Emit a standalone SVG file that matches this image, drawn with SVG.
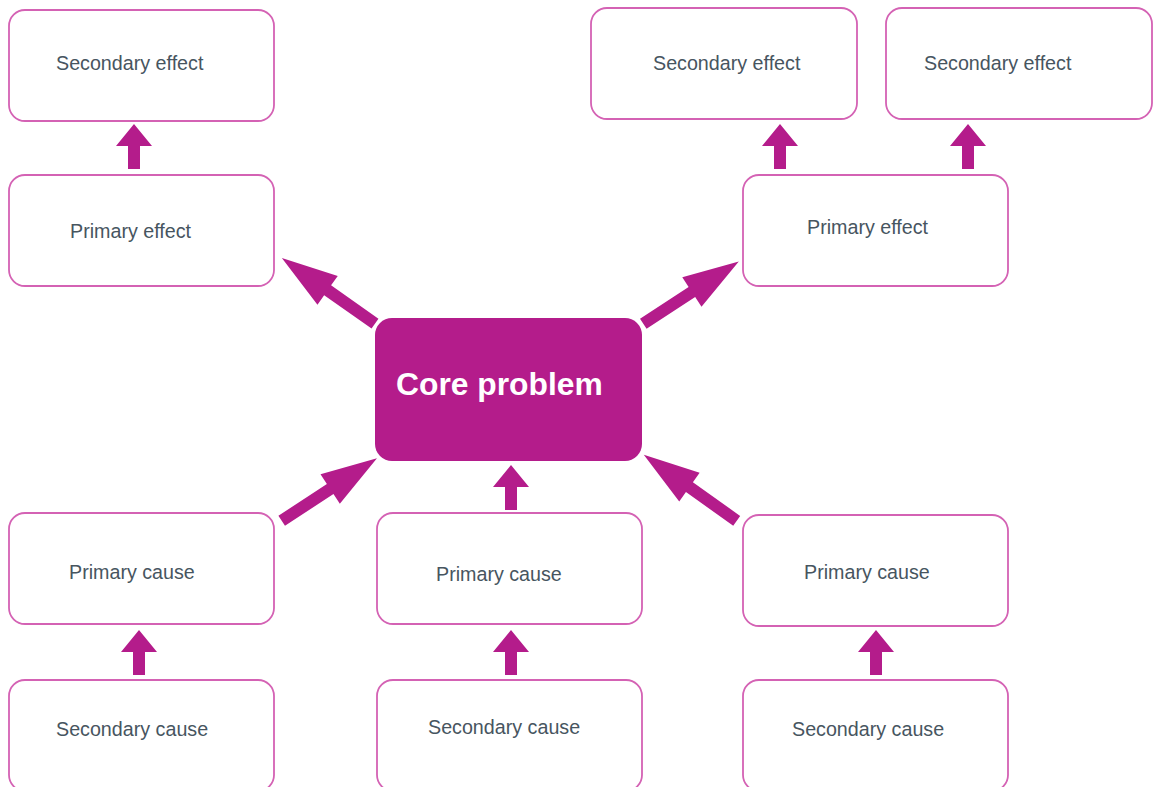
<svg xmlns="http://www.w3.org/2000/svg" width="1157" height="787" viewBox="0 0 1157 787">
<style>
.box{fill:#ffffff;stroke:#D462B4;stroke-width:1.8}
.core{fill:#B41C8B}
.lbl{font-family:"Liberation Sans",Arial,sans-serif;font-size:19.7px;fill:#47555F}
.corelbl{font-family:"Liberation Sans",Arial,sans-serif;font-size:31.8px;font-weight:bold;fill:#ffffff}
.arr{fill:#B41C8B}
</style>
<defs>
<path id="va" d="M-6,0 L-6,-23 L-18,-23 L0,-45 L18,-23 L6,-23 L6,0 Z"/>
<path id="da" d="M0,-6 L58,-6 L58,-17.6 L114,0 L58,17.6 L58,6 L0,6 Z"/>
</defs>
<rect width="1157" height="787" fill="#ffffff"/>
<g id="connectors" class="arr">
<use href="#va" x="134" y="169"/>
<use href="#va" x="780" y="169"/>
<use href="#va" x="968" y="169"/>
<use href="#va" x="511" y="510"/>
<use href="#va" x="139" y="675"/>
<use href="#va" x="511" y="675"/>
<use href="#va" x="876" y="675"/>
<use href="#da" transform="translate(375,323.7) rotate(-144.8)"/>
<use href="#da" transform="translate(643.3,323.7) rotate(-33.1)"/>
<use href="#da" transform="translate(281.7,520.8) rotate(-33.3)"/>
<use href="#da" transform="translate(736.7,520.8) rotate(-144.6)"/>
</g>
<g id="sec-effect-1"><rect class="box" x="9" y="10" width="265" height="111" rx="16"/><text class="lbl" x="56" y="70">Secondary effect</text></g>
<g id="prim-effect-1"><rect class="box" x="9" y="175" width="265" height="111" rx="16"/><text class="lbl" x="70" y="238">Primary effect</text></g>
<g id="sec-effect-2"><rect class="box" x="591" y="8" width="266" height="111" rx="16"/><text class="lbl" x="653" y="70">Secondary effect</text></g>
<g id="sec-effect-3"><rect class="box" x="886" y="8" width="266" height="111" rx="16"/><text class="lbl" x="924" y="70">Secondary effect</text></g>
<g id="prim-effect-2"><rect class="box" x="743" y="175" width="265" height="111" rx="16"/><text class="lbl" x="807" y="234">Primary effect</text></g>
<g id="core-problem"><rect class="core" x="375" y="318" width="267" height="143" rx="17"/><text class="corelbl" x="396" y="395">Core problem</text></g>
<g id="prim-cause-1"><rect class="box" x="9" y="513" width="265" height="111" rx="16"/><text class="lbl" x="69" y="579">Primary cause</text></g>
<g id="prim-cause-2"><rect class="box" x="377" y="513" width="265" height="111" rx="16"/><text class="lbl" x="436" y="581">Primary cause</text></g>
<g id="prim-cause-3"><rect class="box" x="743" y="515" width="265" height="111" rx="16"/><text class="lbl" x="804" y="579">Primary cause</text></g>
<g id="sec-cause-1"><rect class="box" x="9" y="680" width="265" height="111" rx="16"/><text class="lbl" x="56" y="736">Secondary cause</text></g>
<g id="sec-cause-2"><rect class="box" x="377" y="680" width="265" height="111" rx="16"/><text class="lbl" x="428" y="734">Secondary cause</text></g>
<g id="sec-cause-3"><rect class="box" x="743" y="680" width="265" height="111" rx="16"/><text class="lbl" x="792" y="736">Secondary cause</text></g>
</svg>
